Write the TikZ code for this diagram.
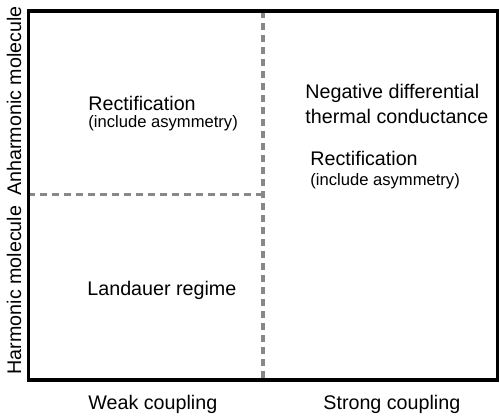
\documentclass[tikz,border=0pt]{standalone}
\usepackage{fontspec}
\setmainfont{Liberation Sans}
\usetikzlibrary{positioning}
\definecolor{quadgrey}{HTML}{888888}

\begin{document}
\begin{tikzpicture}[x=0.5pt, y=-0.5pt,
    frame/.style={draw=black, line width=1.75pt},
    divider/.style={draw=quadgrey, line width=1.75pt, dash pattern=on 3.5pt off 2.5pt},
    bigtext/.style={inner sep=0pt, anchor=base west, font=\fontsize{9.85}{11.8}\selectfont},
    smalltext/.style={inner sep=0pt, anchor=base west, font=\fontsize{8.3}{10}\selectfont},
    sidetext/.style={inner sep=0pt, anchor=base, rotate=90, font=\fontsize{9.85}{11.8}\selectfont}
  ]
    \useasboundingbox (0,0) rectangle (500,416);
    % quadrant dividers
    \coordinate (vtop) at (263,11);
    \coordinate (vbot) at (263,380);
    \coordinate (hleft) at (28.5,194.5);
    \coordinate (hmid) at (263,194.5);
    \draw[divider] (vtop) -- (vbot);
    \draw[divider] (hleft) -- (hmid);
    \draw[frame] (28.5,11) rectangle (497.5,380);
    % quadrant texts
    \node[bigtext]   (rectweak)  at (88,110.5) {Rectification};
    \node[smalltext] (asymweak)  at (88,128)   {(include asymmetry)};
    \node[bigtext]   (negdiff)   at (305,99)   {Negative differential};
    \node[bigtext]   (thermcond) at (305,123.5) {thermal conductance};
    \node[bigtext]   (rectstrong) at (310,166) {Rectification};
    \node[smalltext] (asymstrong) at (310,186) {(include asymmetry)};
    \node[bigtext]   (landauer)  at (87,296)  {Landauer regime};
    % axis labels
    \node[bigtext]   (weak)      at (88,410)  {Weak coupling};
    \node[bigtext]   (strong)    at (323,410) {Strong coupling};
    \node[sidetext]  (harm)      at (21,290)  {Harmonic molecule};
    \node[sidetext]  (anharm)    at (21,101)  {Anharmonic molecule};
\end{tikzpicture}
\end{document}
